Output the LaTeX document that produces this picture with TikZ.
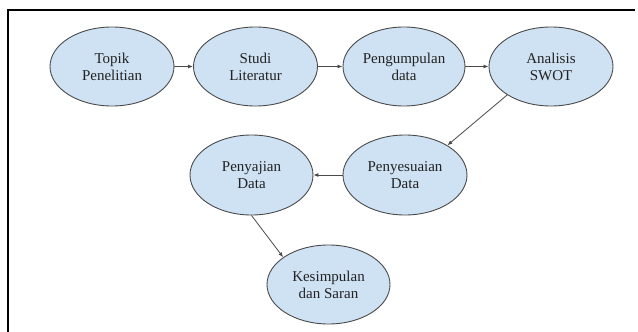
\documentclass[tikz,border=0pt]{standalone}
\usepackage{fontspec}
\setmainfont{Liberation Serif}
\usetikzlibrary{shapes.geometric,arrows.meta}
\definecolor{ellfill}{HTML}{CFE2F3}
\definecolor{elldraw}{HTML}{4A4A4A}
\definecolor{txt}{HTML}{222222}
\tikzset{
  stage/.style={ellipse, draw=elldraw, fill=ellfill, line width=0.9pt,
    inner sep=0pt, minimum width=124pt, minimum height=79pt,
    align=center, text=txt, font=\fontsize{15}{17}\selectfont},
  flow/.style={draw=elldraw, line width=0.8pt, -{Latex[length=5pt,width=4pt]}},
  frame/.style={draw=black, line width=2pt}
}
\begin{document}
\begin{tikzpicture}[x=1pt,y=-1pt]
\useasboundingbox (0,0) rectangle (638,332);
\draw[frame] (8,332) -- (8,10) -- (635,10);
\node[stage] (topik) at (112,66.5) {Topik\\Penelitian};
\node[stage] (studi) at (255.5,66.5) {Studi\\Literatur};
\node[stage, minimum width=122pt] (kumpul) at (404,66.5) {Pengumpulan\\data};
\node[stage] (swot) at (551,66.5) {Analisis\\SWOT};
\node[stage, minimum height=80pt] (sesuai) at (405,175) {Penyesuaian\\Data};
\node[stage, minimum width=123pt, minimum height=80pt] (saji) at (251.5,175) {Penyajian\\Data};
\node[stage, minimum width=123pt] (simpul) at (328.5,284.5) {Kesimpulan\\dan Saran};
\draw[flow] (topik) -- (studi);
\draw[flow] (studi) -- (kumpul);
\draw[flow] (kumpul) -- (swot);
\draw[flow] (swot.213.5) -- (sesuai.35.5);
\draw[flow] (sesuai) -- (saji);
\draw[flow] (saji.270) -- (simpul.149);
\end{tikzpicture}
\end{document}
